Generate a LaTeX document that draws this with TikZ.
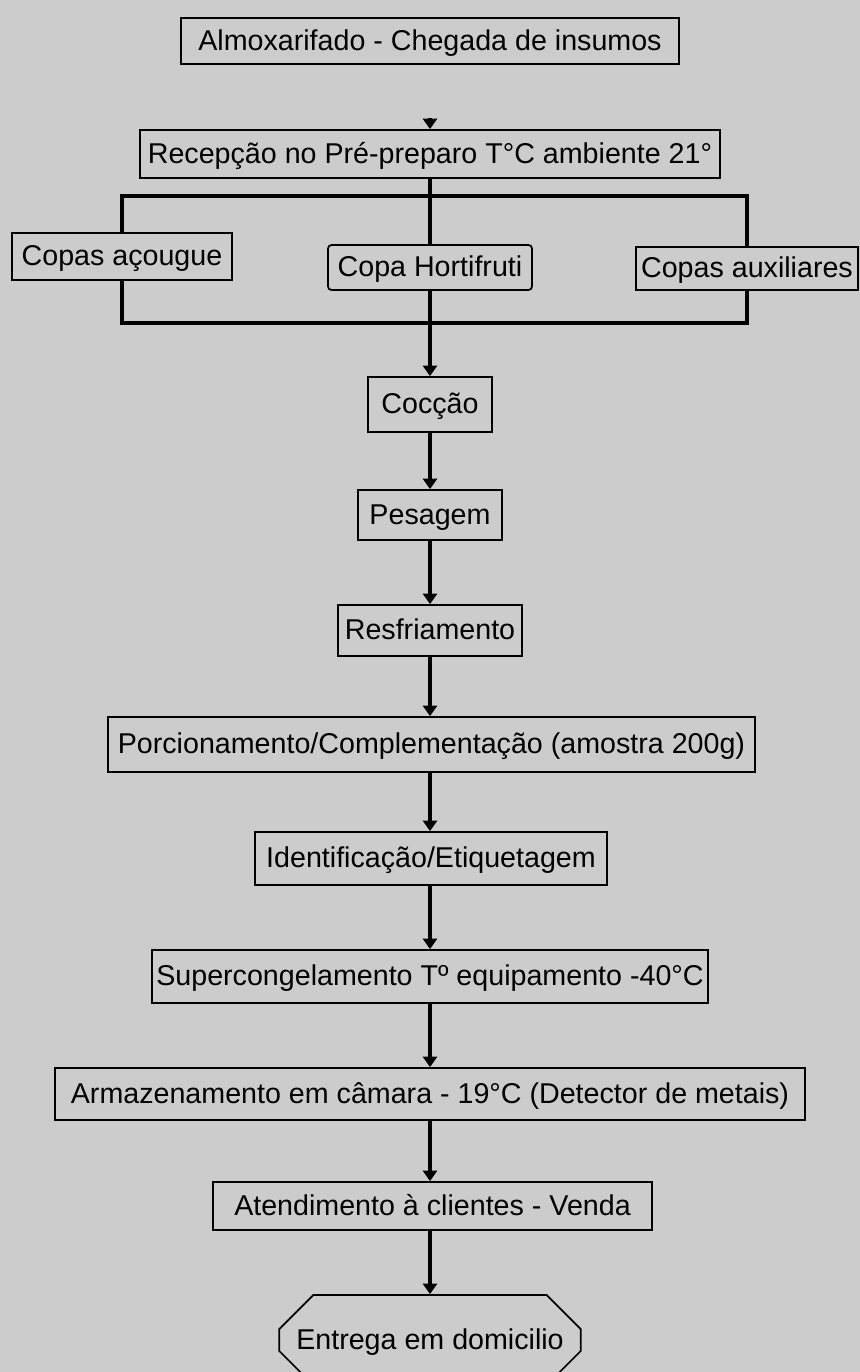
\documentclass[tikz,border=0pt]{standalone}
\usepackage{fontspec}
\setmainfont{Liberation Sans}
\usetikzlibrary{arrows.meta,shapes.misc}
\definecolor{fundo}{RGB}{204,204,204}
\tikzset{etapa/.style={draw, line width=1pt, fill=fundo, inner sep=2pt,
					text height=13pt, text depth=2.5pt,
					font=\fontsize{16.3}{19}\selectfont},
		fluxo/.style={line width=2pt, -{Triangle[width=8pt,length=6pt]}},
		barra/.style={line width=2pt}}

\begin{document}
\begin{tikzpicture}
					
					% fundo cinza e limites da pagina
					\fill[fundo] (0,0) rectangle (17.2,-27.44);
					\useasboundingbox (0,0) rectangle (17.2,-27.44);
					
					\node[etapa, minimum width=9.96cm, minimum height=0.92cm] (almox) at (8.6,-0.82) {Almoxarifado - Chegada de insumos};
					\node[etapa, minimum width=11.6cm, minimum height=0.96cm] (recep) at (8.6,-3.08) {Recepção no Pré-preparo T°C ambiente 21°};
					
					\node[etapa, minimum width=4.4cm, minimum height=0.94cm] (acougue) at (2.44,-5.13) {Copas açougue};
					\node[etapa, rounded corners=2pt, minimum width=4.08cm, minimum height=0.9cm] (horti) at (8.6,-5.35) {Copa Hortifruti};
					\node[etapa, minimum width=4.44cm, minimum height=0.86cm] (aux) at (14.94,-5.37) {Copas auxiliares};
					
					\node[etapa, minimum width=2.48cm, minimum height=1.1cm] (coccao) at (8.6,-8.09) {Cocção};
					\node[etapa, minimum width=2.88cm, minimum height=1.0cm] (pesagem) at (8.6,-10.3) {Pesagem};
					\node[etapa, minimum width=3.68cm, minimum height=1.02cm] (resfr) at (8.6,-12.61) {Resfriamento};
					\node[etapa, minimum width=12.94cm, minimum height=1.1cm] (porcion) at (8.63,-14.89) {Porcionamento/Complementação (amostra 200g)};
					\node[etapa, minimum width=7.04cm, minimum height=1.06cm] (ident) at (8.62,-17.17) {Identificação/Etiquetagem};
					\node[etapa, minimum width=11.12cm, minimum height=1.06cm] (superc) at (8.6,-19.53) {Supercongelamento Tº equipamento -40°C};
					\node[etapa, minimum width=15.0cm, minimum height=1.04cm] (armaz) at (8.6,-21.88) {Armazenamento em câmara - 19°C (Detector de metais)};
					\node[etapa, minimum width=8.78cm, minimum height=0.96cm] (atend) at (8.65,-24.12) {Atendimento à clientes - Venda};
					\node[etapa, chamfered rectangle, inner xsep=0pt, chamfered rectangle xsep=0.6cm, chamfered rectangle ysep=0.34cm,
						minimum width=5.8cm, minimum height=1.8cm] (entrega) at (8.6,-26.8) {Entrega em domicilio};
					
					% ligacoes
					\coordinate (ponta) at (8.6,-2.36);
					\coordinate (bustopo) at (8.6,-3.92);
					\coordinate (busbase) at (8.6,-6.46);
					
					\draw[fluxo] (ponta) -- (recep.north);
					\draw[barra] (recep.south) -- (horti.north);
					\draw[barra] (acougue.north) |- (bustopo) -| (aux.north);
					\draw[barra] (acougue.south) |- (busbase) -| (aux.south);
					\draw[fluxo] (horti.south) -- (coccao.north);
					
					\draw[fluxo] (coccao) -- (pesagem);
					\draw[fluxo] (pesagem) -- (resfr);
					\draw[fluxo] (resfr) -- (porcion.north -| resfr.south);
					\draw[fluxo] (porcion.south -| resfr.south) -- (ident.north -| resfr.south);
					\draw[fluxo] (ident.south -| resfr.south) -- (superc.north);
					\draw[fluxo] (superc) -- (armaz);
					\draw[fluxo] (armaz) -- (atend.north -| armaz.south);
					\draw[fluxo] (atend.south -| armaz.south) -- (entrega.north);
					
\end{tikzpicture}
\end{document}
